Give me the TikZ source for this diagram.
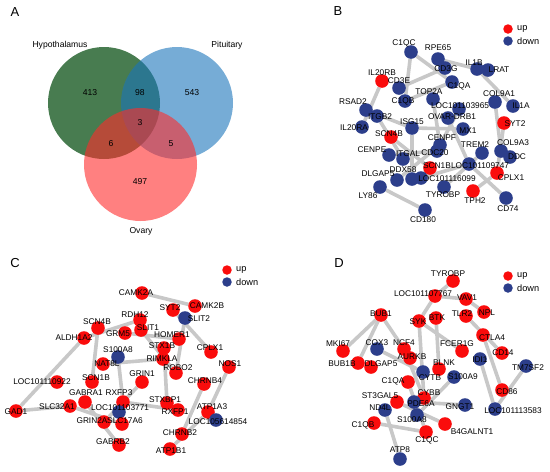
\documentclass[tikz,border=0pt]{standalone}
\usepackage{fontspec}
\setmainfont{Liberation Sans}

\pgfdeclarelayer{background}
\pgfdeclarelayer{foreground}
\pgfsetlayers{background,main,foreground}

\definecolor{upred}{RGB}{250,12,12}
\definecolor{dnblue}{RGB}{44,62,139}
\definecolor{ppigray}{RGB}{200,200,200}
\definecolor{hypgreen}{RGB}{40,101,49}
\definecolor{pitblue}{RGB}{27,117,187}
\definecolor{ovared}{RGB}{255,43,43}

\tikzset{
  gene/.style={circle, inner sep=0pt, minimum size=13.6pt},
  upgene/.style={gene, fill=upred},
  dngene/.style={gene, fill=dnblue},
  glabel/.style={inner sep=0pt, font=\fontsize{8.3}{9}\selectfont},
  ppi/.style={draw=ppigray, line width=3.6pt},
  keydot/.style={circle, inner sep=0pt, minimum size=9.5pt},
  keytext/.style={anchor=west, inner sep=0pt, font=\fontsize{9.2}{10}\selectfont},
  panel/.style={inner sep=0pt, font=\fontsize{13}{14}\selectfont},
  vtext/.style={inner sep=0pt, font=\fontsize{8.6}{10}\selectfont},
}

\begin{document}
\begin{tikzpicture}[x=1pt,y=-1pt]
  \useasboundingbox (0,0) rectangle (550,472);

  % A: venn
  \node[panel] (pa) at (15,12) {A};
  \fill[hypgreen, fill opacity=0.85] (104,103) circle[radius=56pt];
  \fill[pitblue, fill opacity=0.6] (177,103) circle[radius=56pt];
  \fill[ovared, fill opacity=0.6] (140.5,164.5) circle[radius=56.5pt];
  \node[vtext] (hyp) at (60,45) {Hypothalamus};
  \node[vtext] (pit) at (227,45) {Pituitary};
  \node[vtext] (ova) at (141,231) {Ovary};
  \node[vtext] (n413) at (90,93) {413};
  \node[vtext] (n98) at (140,93) {98};
  \node[vtext] (n543) at (192,93) {543};
  \node[vtext] (n3) at (140,123) {3};
  \node[vtext] (n6) at (111,144) {6};
  \node[vtext] (n5) at (171,144) {5};
  \node[vtext] (n497) at (140,182) {497};

  % B: hypothalamus-pituitary network
  \node[panel] (pb) at (338,11) {B};
  \node[keydot, fill=upred] (bkup) at (508,29) {};
  \node[keytext] (bkupt) at (517,29) {up};
  \node[keydot, fill=dnblue] (bkdn) at (508,41) {};
  \node[keytext] (bkdnt) at (517,41) {down};
  \foreach \g/\x/\y/\s/\lx/\ly in {
    C1QC/411/52/dngene/404/43, RPE65/438/59/dngene/438/48,
    CD3G/445/68/dngene/446/69, IL1B/477/69/dngene/474/63,
    LRAT/488/70/dngene/499/70, IL20RB/382/81/upgene/382/73,
    CD3E/399/88/dngene/399/81, C1QA/452/82/dngene/459/86,
    TOP2A/433/99/dngene/429/92, C1QB/405/101/dngene/403/101,
    LOC101103965/459/109/dngene/460/106, COL9A1/495/102/dngene/499/94,
    IL1A/513/106/dngene/521/106, RSAD2/366/110/dngene/353/102,
    ITGB2/377/116/dngene/380/117, IL20RA/362/127/dngene/354/128,
    ISG15/412/128/dngene/412/122, OVAR-DRB1/448/118/dngene/452/117,
    MX1/463/129/dngene/468/131, SYT2/504/123/upgene/515/124,
    SCN4B/391/137/upgene/389/134, CENPF/440/145/dngene/442/138,
    CDC20/437/151/dngene/435/153, TREM2/482/153/dngene/475/145,
    COL9A3/501/151/dngene/513/143, DDC/510/157/dngene/517/157,
    CENPE/389/155/dngene/372/150, ITGAL/403/159/dngene/408/154,
    LOC101109747/469/164/dngene/480/166, SCN1B/430/168/upgene/437/166,
    CPLX1/497/173/upgene/511/178, DLGAP5/397/180/dngene/378/174,
    DDX58/412/179/dngene/403/170, LOC101116099/421/178/dngene/447/179,
    LY86/380/187/dngene/368/196, TYROBP/444/187/dngene/443/195,
    TPH2/473/191/upgene/475/201, CD74/506/198/dngene/508/209,
    CD180/425/210/dngene/423/220} {
    \node[\s] (b\g) at (\x,\y) {};
    \begin{pgfonlayer}{foreground}
      \node[glabel] (b\g-t) at (\lx,\ly) {\g};
    \end{pgfonlayer}
  }
  \begin{pgfonlayer}{background}
    \foreach \a/\b in {C1QC/C1QB, C1QC/C1QA, RPE65/IL1B, CD3E/CD3G,
      C1QB/C1QA, IL1B/IL1A, COL9A1/COL9A3, SYT2/CPLX1, IL20RB/IL20RA,
      RSAD2/ISG15, ISG15/MX1, ITGB2/ITGAL, SCN4B/SCN1B, ISG15/DDX58,
      TOP2A/CENPF, LOC101103965/CDC20, CENPE/CDC20, DLGAP5/CENPF,
      OVAR-DRB1/LOC101109747, LOC101109747/CD74, LOC101116099/LOC101109747,
      TREM2/TYROBP, CPLX1/TPH2, LY86/CD180}
      \draw[ppi] (b\a) -- (b\b);
  \end{pgfonlayer}

  % C: hypothalamus-ovary network
  \node[panel] (pc) at (15,263) {C};
  \node[keydot, fill=upred] (ckup) at (227,270) {};
  \node[keytext] (ckupt) at (236,270) {up};
  \node[keydot, fill=dnblue] (ckdn) at (227,282) {};
  \node[keytext] (ckdnt) at (236,282) {down};
  \foreach \g/\x/\y/\s/\lx/\ly in {
    CAMK2A/142/293/upgene/136/293, SYT2/173/310/upgene/170/308,
    CAMK2B/195/306/upgene/207/306, SLIT2/185/318/dngene/199/319,
    RDH12/140/320/upgene/135/315, SCN4B/98/328/upgene/97/322,
    GRM5/125/333/upgene/118/334, SLIT1/141/330/upgene/148/328,
    HOMER1/179/339/upgene/172/335, ALDH1A2/84/338/upgene/74/338,
    STX1B/164/348/upgene/162/346, CPLX1/211/352/upgene/210/348,
    S100A8/118/357/dngene/118/350, NAT8L/103/364/upgene/107/364,
    RIMKLA/163/359/upgene/162/359, ROBO2/176/373/upgene/178/368,
    NOS1/229/367/upgene/230/364, LOC101110922/57/382/upgene/42/382,
    SCN1B/92/382/upgene/96/378, GRIN1/142/382/upgene/142/374,
    CHRNB4/204/384/upgene/205/381, GABRA1/85/402/upgene/86/393,
    RXFP3/123/402/upgene/119/393, STXBP1/167/403/upgene/165/400,
    GAD1/16/411/upgene/16/412, SLC32A1/70/406/upgene/57/407,
    LOC101103771/119/412/dngene/120/408, RXFP1/178/410/upgene/175/412,
    ATP1A3/208/412/upgene/212/407, LOC105614854/216/420/dngene/218/422,
    GRIN2A/104/422/upgene/92/421, SLC17A6/122/424/upgene/125/421,
    CHRNB2/182/434/upgene/180/433, GABRB2/119/445/upgene/113/442,
    ATP1B1/170/449/upgene/171/451} {
    \node[\s] (c\g) at (\x,\y) {};
    \begin{pgfonlayer}{foreground}
      \node[glabel] (c\g-t) at (\lx,\ly) {\g};
    \end{pgfonlayer}
  }
  \begin{pgfonlayer}{background}
    \foreach \a/\b in {CAMK2A/CAMK2B, SYT2/CPLX1, ALDH1A2/RDH12, GRM5/HOMER1,
      SLIT1/ROBO2, SLIT2/ROBO2, STX1B/STXBP1, NAT8L/RIMKLA, S100A8/RXFP3,
      RXFP3/RXFP1, NOS1/ATP1A3, CHRNB4/CHRNB2, ATP1A3/ATP1B1, ALDH1A2/GAD1,
      GAD1/SLC32A1, SCN4B/SCN1B, GABRA1/GABRB2, GRIN1/GRIN2A, SLC32A1/SLC17A6}
      \draw[ppi] (c\a) -- (c\b);
  \end{pgfonlayer}

  % D: pituitary-ovary network
  \node[panel] (pd) at (339,263) {D};
  \node[keydot, fill=upred] (dkup) at (508,276) {};
  \node[keytext] (dkupt) at (517,276) {up};
  \node[keydot, fill=dnblue] (dkdn) at (508,288) {};
  \node[keytext] (dkdnt) at (517,288) {down};
  \foreach \g/\x/\y/\s/\lx/\ly in {
    TYROBP/453/281/upgene/448/274, LOC101107767/435/296/upgene/423/294,
    VAV1/466/299/upgene/467/298, BUB1/381/315/upgene/381/314,
    SYK/419/321/upgene/418/322, BTK/436/318/upgene/437/318,
    TLR2/466/316/upgene/462/314, NPL/484/312/upgene/487/313,
    CTLA4/483/335/upgene/492/338, MKI67/343/351/upgene/338/344,
    COX3/377/349/dngene/377/343, NCF4/404/349/upgene/404/343,
    FCER1G/462/351/upgene/457/344, CD14/502/353/upgene/503/353,
    IDI1/480/359/dngene/480/360, BUB1B/358/363/upgene/342/364,
    DLGAP5/371/367/upgene/381/364, AURKB/410/358/upgene/412/357,
    TM7SF2/526/366/dngene/528/368, BLNK/439/369/upgene/444/363,
    CYTB/423/372/dngene/430/378, S100A9/454/377/dngene/463/377,
    C1QA/408/382/upgene/393/381, CD86/502/390/upgene/507/392,
    CYBB/424/398/upgene/429/393, ST3GAL5/397/402/upgene/380/396,
    PDE6A/414/402/dngene/421/404, GNGT1/465/405/dngene/460/407,
    LOC101113583/495/409/dngene/513/411, ND4L/385/410/dngene/380/408,
    S100A8/417/415/dngene/412/420, B4GALNT1/445/424/upgene/472/432,
    C1QB/374/423/upgene/363/425, C1QC/426/432/upgene/427/440,
    ATP8/400/459/dngene/400/450} {
    \node[\s] (d\g) at (\x,\y) {};
    \begin{pgfonlayer}{foreground}
      \node[glabel] (d\g-t) at (\lx,\ly) {\g};
    \end{pgfonlayer}
  }
  \begin{pgfonlayer}{background}
    \foreach \a/\b in {TYROBP/LOC101107767, SYK/LOC101107767, LOC101107767/VAV1,
      VAV1/NPL, TLR2/CD14, CTLA4/CD86, BTK/BLNK, SYK/FCER1G, SYK/CYBB,
      BUB1/MKI67, BUB1/BUB1B, BUB1/AURKB, COX3/CYTB, NCF4/CYBB, ND4L/ATP8,
      C1QB/C1QC, C1QA/C1QC, PDE6A/GNGT1, S100A8/S100A9, ST3GAL5/B4GALNT1,
      TM7SF2/LOC101113583, IDI1/LOC101113583}
      \draw[ppi] (d\a) -- (d\b);
  \end{pgfonlayer}
\end{tikzpicture}
\end{document}
